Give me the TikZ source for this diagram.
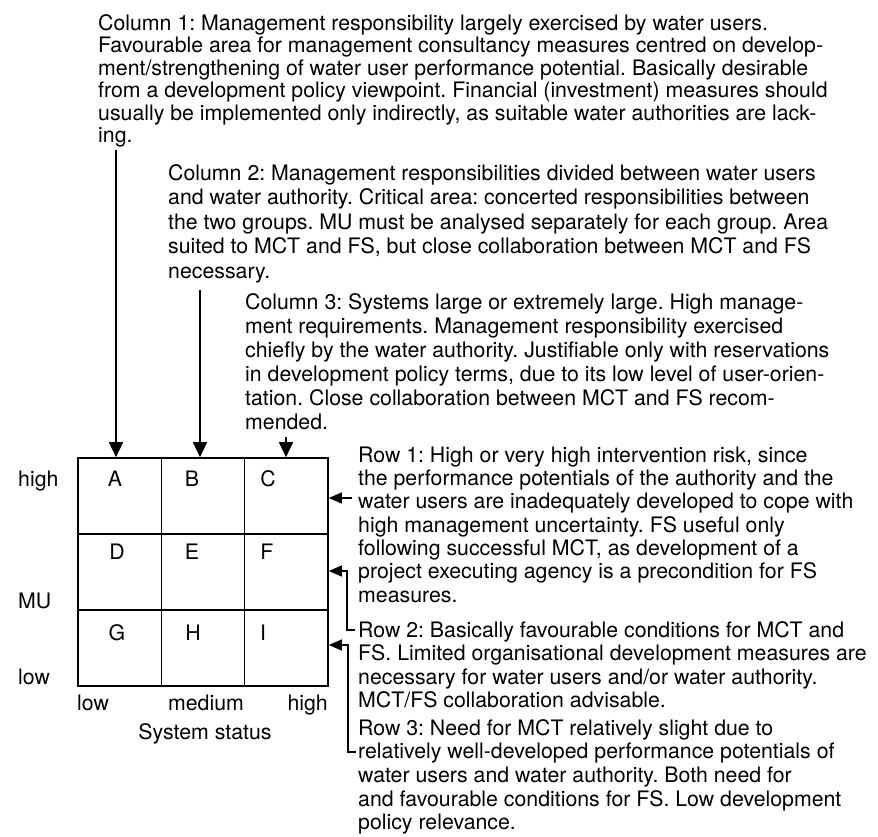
\documentclass[tikz,border=0pt]{standalone}
\usepackage{fontspec}
\setmainfont{TeX Gyre Heros}
\usetikzlibrary{arrows.meta}
\begin{document}
\frenchspacing
\begin{tikzpicture}[x=1pt,y=-1pt,
  every node/.style={font=\fontsize{21.3}{23.3}\selectfont, inner sep=0pt},
  note/.style={align=left, anchor=north west},
  cell/.style={draw, line width=1.6pt, minimum width=83.33pt, minimum height=76pt},
  letter/.style={anchor=base},
  colarrow/.style={line width=1.4pt, -{Triangle[length=15pt,width=14pt]}},
  rowarrow/.style={line width=1.2pt, -{Triangle[length=13pt,width=11pt]}},
]
\useasboundingbox (0,0) rectangle (878,837);

% explanatory notes for the three columns
\node[note, font=\fontsize{21.3}{22.5}\selectfont] (col1) at (98,14.25)
{\strut Column 1: Management responsibility largely exercised by water users.\\
Favourable area for management consultancy measures centred on develop-\\
ment/strengthening of water user performance potential. Basically desirable\\
from a development policy viewpoint. Financial (investment) measures should\\
usually be implemented only indirectly, as suitable water authorities are lack-\\
ing.};

\node[note, font=\fontsize{21.3}{24.5}\selectfont] (col2) at (168,162.85)
{\strut Column 2: Management responsibilities divided between water users\\
and water authority. Critical area: concerted responsibilities between\\
the two groups. MU must be analysed separately for each group. Area\\
suited to MCT and FS, but close collaboration between MCT and FS\\
necessary.};

\node[note, font=\fontsize{21.3}{24}\selectfont] (col3) at (245,292.2)
{\strut Column 3: Systems large or extremely large. High manage-\\
ment requirements. Management responsibility exercised\\
chiefly by the water authority. Justifiable only with reservations\\
in development policy terms, due to its low level of user-orien-\\
tation. Close collaboration between MCT and FS recom-\\
mended.};

% explanatory notes for the three rows
\node[note, font=\fontsize{21.3}{23.3}\selectfont] (row1) at (358,445.7)
{\strut Row 1: High or very high intervention risk, since\\
the performance potentials of the authority and the\\
water users are inadequately developed to cope with\\
high management uncertainty. FS useful only\\
following successful MCT, as development of a\\
project executing agency is a precondition for FS\\
measures.};

\node[note, font=\fontsize{21.3}{23.5}\selectfont] (row2) at (358,620.55)
{\strut Row 2: Basically favourable conditions for MCT and\\
FS. Limited organisational development measures are\\
necessary for water users and/or water authority.\\
MCT/FS collaboration advisable.};

\node[note, font=\fontsize{21.3}{23.7}\selectfont] (row3) at (358,718.4)
{\strut Row 3: Need for MCT relatively slight due to\\
relatively well-developed performance potentials of\\
water users and water authority. Both need for\\
and favourable conditions for FS. Low development\\
policy relevance.};

% the 3 x 3 matrix
\node[cell] (cellA) at (119.67,496) {};
\node[cell] (cellB) at (203,496) {};
\node[cell] (cellC) at (286.33,496) {};
\node[cell] (cellD) at (119.67,572) {};
\node[cell] (cellE) at (203,572) {};
\node[cell] (cellF) at (286.33,572) {};
\node[cell] (cellG) at (119.67,648) {};
\node[cell] (cellH) at (203,648) {};
\node[cell] (cellI) at (286.33,648) {};

\node[letter] (lA) at (115,486) {A};
\node[letter] (lB) at (192,486) {B};
\node[letter] (lC) at (268,486) {C};
\node[letter] (lD) at (117,559) {D};
\node[letter] (lE) at (192,559) {E};
\node[letter] (lF) at (267,559) {F};
\node[letter] (lG) at (117,640) {G};
\node[letter] (lH) at (193,640) {H};
\node[letter] (lI) at (263,640) {I};

% axis labels
\node[anchor=base west] (yhigh) at (18,486) {high};
\node[anchor=base west] (ymu) at (18,608) {MU};
\node[anchor=base west] (ylow) at (18,684) {low};
\node[anchor=base west] (xlow) at (77,710) {low};
\node[anchor=base] (xmed) at (206,710) {medium};
\node[anchor=base east] (xhigh) at (328,710) {high};
\node[anchor=base] (xtitle) at (205,739) {System status};

% arrows from the column notes
\coordinate (c1from) at (116,150);
\draw[colarrow] (c1from) -- (c1from |- cellA.north);
\coordinate (c2from) at (200,290);
\draw[colarrow] (c2from) -- (c2from |- cellB.north);
\coordinate (c3from) at (286,437);
\draw[colarrow] (c3from) -- (c3from |- cellC.north);

% arrows from the row notes
\coordinate (r1from) at (352,498);
\draw[rowarrow] (r1from) -- (r1from -| cellC.east);
\coordinate (r2from) at (355,630);
\coordinate (r2bend) at (347,571);
\draw[rowarrow] (r2from) -| (r2bend) -- (r2bend -| cellF.east);
\coordinate (r3from) at (356,752);
\coordinate (r3bend) at (348,645);
\draw[rowarrow] (r3from) -| (r3bend) -- (r3bend -| cellI.east);
\end{tikzpicture}
\end{document}
